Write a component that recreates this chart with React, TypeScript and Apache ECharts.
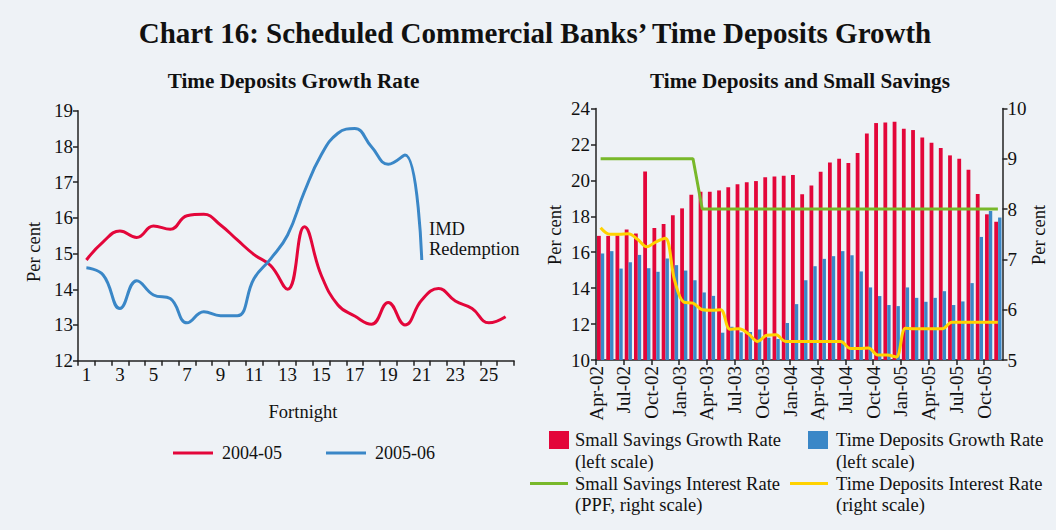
import React, { useEffect, useRef } from "react";
import * as echarts from "echarts";

const fortnights = ["1","2","3","4","5","6","7","8","9","10","11","12","13","14","15","16","17","18","19","20","21","22","23","24","25","26"];
const growth2004 = [14.82,15.33,15.63,15.45,15.77,15.68,16.06,16.1,15.8,15.38,14.97,14.66,14.0,15.75,14.4,13.56,13.25,13.02,13.63,13.0,13.7,14.02,13.67,13.46,13.06,13.23];
const growth2005 = [14.6,14.4,13.46,14.24,13.84,13.74,13.06,13.37,13.26,13.26,14.3,14.86,15.52,16.73,17.76,18.37,18.5,17.99,17.5,17.76,14.82];

const months = [
  "Apr-02","May-02","Jun-02","Jul-02","Aug-02","Sep-02","Oct-02","Nov-02","Dec-02",
  "Jan-03","Feb-03","Mar-03","Apr-03","May-03","Jun-03","Jul-03","Aug-03","Sep-03","Oct-03","Nov-03","Dec-03",
  "Jan-04","Feb-04","Mar-04","Apr-04","May-04","Jun-04","Jul-04","Aug-04","Sep-04","Oct-04","Nov-04","Dec-04",
  "Jan-05","Feb-05","Mar-05","Apr-05","May-05","Jun-05","Jul-05","Aug-05","Sep-05","Oct-05","Nov-05"
];
const monthTickLabels = ["Apr-02","Jul-02","Oct-02","Jan-03","Apr-03","Jul-03","Oct-03","Jan-04","Apr-04","Jul-04","Oct-04","Jan-05","Apr-05","Jul-05","Oct-05"];
const smallSavingsGrowth = [16.91,16.91,16.94,17.26,17.04,20.5,17.35,17.57,18.06,18.44,19.2,19.37,19.37,19.44,19.61,19.78,19.89,19.96,20.17,20.22,20.26,20.3,19.22,19.72,20.48,21.0,21.2,20.96,21.52,22.61,23.19,23.22,23.26,22.87,22.8,22.39,22.09,21.8,21.39,21.2,20.59,19.24,18.11,17.7];
const timeDepositsGrowth = [15.93,16.06,15.09,15.44,15.85,15.11,14.91,15.65,15.28,14.98,14.44,13.76,13.57,11.52,11.85,11.54,11.56,11.7,11.24,11.17,12.06,13.11,14.44,15.22,15.63,15.78,16.06,15.83,14.93,14.04,13.56,13.06,13.0,14.04,13.46,13.24,13.46,13.83,13.06,13.26,14.28,16.85,18.3,17.93];
const ppfRate = [9,9,9,9,9,9,9,9,9,9,9,8,8,8,8,8,8,8,8,8,8,8,8,8,8,8,8,8,8,8,8,8,8,8,8,8,8,8,8,8,8,8,8,8];
const timeDepositRate = [7.63,7.5,7.5,7.51,7.4,7.25,7.35,7.42,6.59,6.15,6.13,6.0,5.99,6.0,5.61,5.62,5.52,5.37,5.49,5.5,5.37,5.37,5.37,5.37,5.37,5.37,5.37,5.23,5.23,5.24,5.1,5.1,5.06,5.63,5.62,5.62,5.62,5.62,5.75,5.75,5.75,5.75,5.75,5.75];

const FONT = "'Liberation Serif', 'Times New Roman', serif";
const BG = "#EEF2F6";
const RED = "#E3063A";
const BLUE = "#3A87C7";
const GREEN = "#78B82A";
const YELLOW = "#FFD200";
const AXIS = "#222222";
const TXT = "#111111";

function txt(text: string, x: number, y: number, size: number, opts: any = {}) {
  return {
    type: "text",
    x,
    y,
    rotation: opts.rotation || 0,
    style: {
      text,
      fill: TXT,
      fontFamily: FONT,
      fontSize: size,
      fontWeight: opts.bold ? "bold" : "normal",
      align: opts.align || "left",
      verticalAlign: "middle",
    },
  };
}

export default function App() {
  const ref = useRef<HTMLDivElement>(null);
  useEffect(() => {
    if (!ref.current) return;
    const chart = echarts.init(ref.current, null, { renderer: "svg" });
    const axisLine = { show: true, lineStyle: { color: AXIS, width: 1.5 } };
    const axisTick = { show: true, length: 5, lineStyle: { color: AXIS, width: 1.5 } };
    const label = { fontSize: 19, color: TXT, fontFamily: FONT };
    const option: any = {
      animation: false,
      backgroundColor: BG,
      textStyle: { fontFamily: FONT },
      grid: [
        { left: 78, right: 1056 - 514, top: 110.7, bottom: 530 - 360.7 },
        { left: 596, right: 1056 - 1002.5, top: 108.5, bottom: 170 },
      ],
      legend: {
        data: ["2004-05", "2005-06"],
        left: 168,
        top: 439,
        icon: "rect",
        itemWidth: 40,
        itemHeight: 3,
        itemGap: 44,
        textStyle: { fontSize: 18, color: TXT, fontFamily: FONT, padding: [0, 0, 0, 4] },
      },
      xAxis: [
        {
          type: "category", gridIndex: 0, data: fortnights, boundaryGap: true,
          axisLine, axisTick: { ...axisTick, interval: 0 },
          axisLabel: { ...label, interval: 1, margin: 4 },
        },
        {
          type: "category", gridIndex: 1, data: months, boundaryGap: true,
          axisLine, axisTick: { show: false }, axisLabel: { show: false },
        },
        {
          type: "value", gridIndex: 1, min: 0, max: 44, interval: 3, position: "bottom",
          axisLine: { show: false }, axisTick, splitLine: { show: false },
          axisLabel: {
            ...label, rotate: 90, margin: 6, showMaxLabel: false,
            formatter: (v: number) => monthTickLabels[Math.round(v / 3)] ?? "",
          },
        },
      ],
      yAxis: [
        {
          type: "value", gridIndex: 0, min: 12, max: 19, interval: 1,
          axisLine, axisTick, splitLine: { show: false }, axisLabel: { ...label, margin: 5 },
        },
        {
          type: "value", gridIndex: 1, min: 10, max: 24, interval: 2, position: "left",
          axisLine, axisTick, splitLine: { show: false }, axisLabel: { ...label, margin: 6 },
        },
        {
          type: "value", gridIndex: 1, min: 5, max: 10, interval: 1, position: "right",
          axisLine, axisTick, splitLine: { show: false }, axisLabel: { ...label, margin: 5 },
        },
      ],
      series: [
        {
          name: "2004-05", type: "line", xAxisIndex: 0, yAxisIndex: 0, data: growth2004,
          smooth: 0.45, symbol: "none", itemStyle: { color: RED }, lineStyle: { color: RED, width: 3 },
        },
        {
          name: "2005-06", type: "line", xAxisIndex: 0, yAxisIndex: 0, data: growth2005,
          smooth: 0.45, symbol: "none", itemStyle: { color: BLUE }, lineStyle: { color: BLUE, width: 3 },
        },
        {
          name: "Small Savings Growth Rate (left scale)", type: "bar", xAxisIndex: 1, yAxisIndex: 1,
          data: smallSavingsGrowth, barWidth: 3.8, barGap: "0%", itemStyle: { color: RED },
        },
        {
          name: "Time Deposits Growth Rate (left scale)", type: "bar", xAxisIndex: 1, yAxisIndex: 1,
          data: timeDepositsGrowth, barWidth: 3.4, barGap: "0%", itemStyle: { color: BLUE },
        },
        {
          name: "Small Savings Interest Rate (PPF, right scale)", type: "line", xAxisIndex: 1, yAxisIndex: 2,
          data: ppfRate, symbol: "none", itemStyle: { color: GREEN }, lineStyle: { color: GREEN, width: 3 },
        },
        {
          name: "Time Deposits Interest Rate (right scale)", type: "line", xAxisIndex: 1, yAxisIndex: 2,
          data: timeDepositRate, smooth: 0.35, symbol: "none", itemStyle: { color: YELLOW }, lineStyle: { color: YELLOW, width: 3 },
        },
      ],
      graphic: [
        txt("Chart 16: Scheduled Commercial Banks\u2019 Time Deposits Growth", 535, 32.5, 29, { bold: true, align: "center" }),
        txt("Time Deposits Growth Rate", 293.5, 80.5, 21.2, { bold: true, align: "center" }),
        txt("Time Deposits and Small Savings", 800, 80.5, 21.2, { bold: true, align: "center" }),
        txt("Per cent", 33.5, 252, 18.5, { align: "center", rotation: Math.PI / 2 }),
        txt("Fortnight", 303, 412, 18.5, { align: "center" }),
        txt("IMD", 429, 228.5, 18.5),
        txt("Redemption", 429, 249, 18.5),
        txt("Per cent", 555, 235, 18.5, { align: "center", rotation: Math.PI / 2 }),
        txt("Per cent", 1039, 235, 18.5, { align: "center", rotation: Math.PI / 2 }),
        { type: "rect", shape: { x: 549, y: 431, width: 20, height: 18 }, style: { fill: RED } },
        txt("Small Savings Growth Rate", 575, 440, 18.5),
        txt("(left scale)", 575, 461.5, 18.5),
        { type: "rect", shape: { x: 808, y: 431, width: 20, height: 18 }, style: { fill: BLUE } },
        txt("Time Deposits Growth Rate", 836, 440, 18.5),
        txt("(left scale)", 836, 461.5, 18.5),
        { type: "line", shape: { x1: 530, y1: 483.5, x2: 568, y2: 483.5 }, style: { stroke: GREEN, lineWidth: 3 } },
        txt("Small Savings Interest Rate", 575, 483.5, 18.5),
        txt("(PPF, right scale)", 575, 505, 18.5),
        { type: "line", shape: { x1: 790, y1: 483.5, x2: 828, y2: 483.5 }, style: { stroke: YELLOW, lineWidth: 3 } },
        txt("Time Deposits Interest Rate", 836, 483.5, 18.5),
        txt("(right scale)", 836, 505, 18.5),
      ],
    };
    chart.setOption(option);
    return () => chart.dispose();
  }, []);
  return (
    <div
      ref={ref}
      style={{ position: "absolute", left: 0, top: 0, width: 1056, height: 530, background: BG }}
    />
  );
}
